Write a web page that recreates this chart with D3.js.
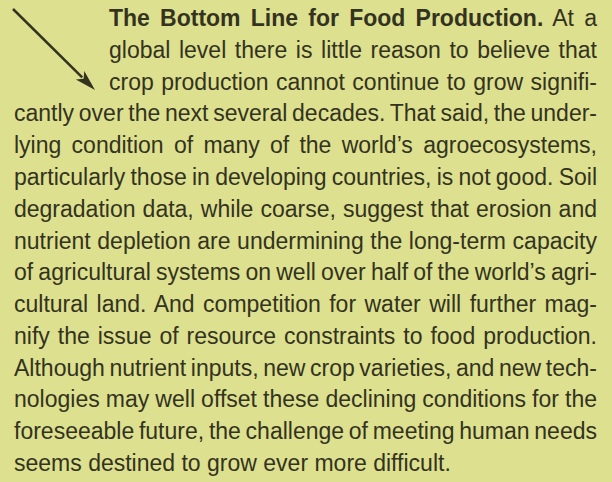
<!DOCTYPE html>
<html>
<head>
<meta charset="utf-8">
<script src="https://cdn.jsdelivr.net/npm/d3@7"></script>
<style>
  html, body { margin: 0; padding: 0; background: #dde08e; }
  svg { display: block; }
</style>
</head>
<body>
<div id="chart"></div>
<script>
'use strict';

// first line is split: bold run-in head + regular text
const headBold = "The Bottom Line for Food Production.";
const headRest = " At a";

// remaining lines as set in the original
const bodyLines = [
  "global level there is little reason to believe that",
  "crop production cannot continue to grow signifi-",
  "cantly over the next several decades. That said, the under-",
  "lying condition of many of the world\u2019s agroecosystems,",
  "particularly those in developing countries, is not good. Soil",
  "degradation data, while coarse, suggest that erosion and",
  "nutrient depletion are undermining the long-term capacity",
  "of agricultural systems on well over half of the world\u2019s agri-",
  "cultural land. And competition for water will further mag-",
  "nify the issue of resource constraints to food production.",
  "Although nutrient inputs, new crop varieties, and new tech-",
  "nologies may well offset these declining conditions for the",
  "foreseeable future, the challenge of meeting human needs",
  "seems destined to grow ever more difficult."
];

const width = 612, height = 482;
const ink = "#33331f";

const svg = d3.select("#chart").append("svg")
    .attr("width", width)
    .attr("height", height);

svg.append("rect")
    .attr("width", width)
    .attr("height", height)
    .attr("fill", "#dde08e");

// line positions
const nLines = bodyLines.length + 1;
const y = d3.scaleLinear().domain([0, nLines - 1]).range([26, 471]);
const indentLeft = 109, left = 14, right = 597;

const textG = svg.append("g")
    .attr("font-family", "'Liberation Sans Narrow', 'Liberation Sans', Arial, sans-serif")
    .attr("font-size", 23)
    .attr("fill", ink);

let allLines = [{ i: 0, parts: [[headBold, true], [headRest, false]] }]
    .concat(bodyLines.map((t, k) => ({ i: k + 1, parts: [[t, false]] })));

allLines.forEach(d => {
    let x0 = d.i < 3 ? indentLeft : left;
    let t = textG.append("text")
        .attr("x", x0)
        .attr("y", y(d.i));
    d.parts.forEach(p => {
        t.append("tspan")
            .attr("font-weight", p[1] ? "bold" : null)
            .text(p[0]);
    });
    // justify all but the last line with word spacing
    if (d.i < nLines - 1) {
        let full = d.parts.map(p => p[0]).join("");
        let spaces = (full.match(/ /g) || []).length;
        let w = t.node().getComputedTextLength();
        let extra = (right - x0) - w;
        if (spaces > 0) t.attr("word-spacing", extra / spaces);
    }
});

// arrow pointing at the heading
const ax0 = 13, ay0 = 9, ax1 = 95, ay1 = 90;
const ang = Math.atan2(ay1 - ay0, ax1 - ax0);
const headLen = 21, headW = 6;
const bx = ax1 - headLen * Math.cos(ang), by = ay1 - headLen * Math.sin(ang);

svg.append("line")
    .attr("x1", ax0).attr("y1", ay0)
    .attr("x2", bx + 3 * Math.cos(ang)).attr("y2", by + 3 * Math.sin(ang))
    .attr("stroke", ink)
    .attr("stroke-width", 2.5);

svg.append("path")
    .attr("d", d3.line()([
        [ax1, ay1],
        [bx + headW * Math.sin(ang), by - headW * Math.cos(ang)],
        [bx + 5 * Math.cos(ang), by + 5 * Math.sin(ang)],
        [bx - headW * Math.sin(ang), by + headW * Math.cos(ang)]
    ]) + "Z")
    .attr("fill", ink);
</script>
</body>
</html>
